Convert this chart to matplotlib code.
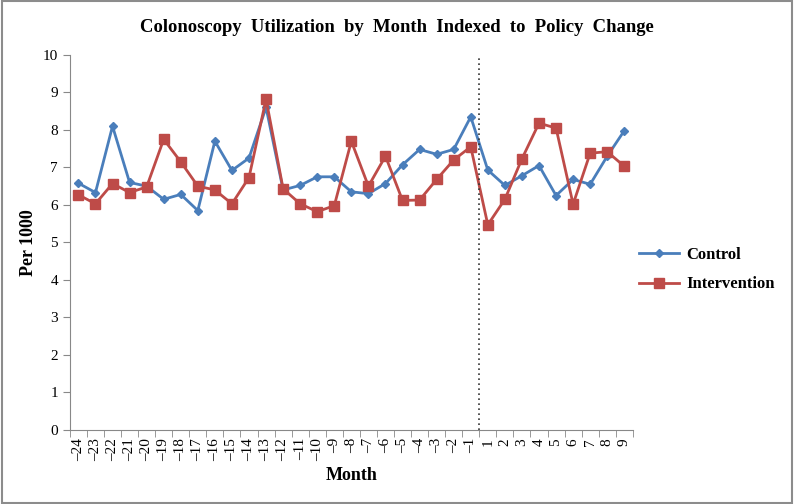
import numpy as np
import matplotlib.pyplot as plt
from matplotlib.patches import Rectangle

months = [str(m) for m in range(-24, 0)] + [str(m) for m in range(1, 10)]
control = [6.58, 6.33, 8.10, 6.60, 6.50, 6.15, 6.28, 5.85, 7.70, 6.92, 7.25, 8.60,
           6.40, 6.52, 6.75, 6.75, 6.35, 6.30, 6.57, 7.07, 7.48, 7.35, 7.48, 8.35,
           6.93, 6.52, 6.78, 7.05, 6.25, 6.68, 6.55, 7.30, 7.98]
intervention = [6.27, 6.03, 6.57, 6.33, 6.48, 7.75, 7.15, 6.50, 6.40, 6.03, 6.73, 8.82,
                6.43, 6.03, 5.82, 5.98, 7.70, 6.50, 7.30, 6.12, 6.13, 6.68, 7.20, 7.55,
                5.47, 6.15, 7.23, 8.18, 8.05, 6.02, 7.38, 7.42, 7.03]

plt.rcParams['font.family'] = ['Liberation Serif', 'DejaVu Serif']

fig = plt.figure(figsize=(7.94, 5.04), dpi=100)
ax = fig.add_axes([0.088, 0.147, 0.709, 0.744])
fig.patches.append(Rectangle((0.002, 0.002), 0.996, 0.996, transform=fig.transFigure,
                             fill=False, edgecolor='#8c8c8c', linewidth=1.5))

x = np.arange(len(months))
ax.plot(x, control, color='#4A7EBB', marker='D', ms=4.5, lw=2, label='Control')
ax.plot(x, intervention, color='#BE4B48', marker='s', ms=6.5, lw=2, label='Intervention')

# policy change between -1 and 1
ax.axvline(months.index('-1') + 0.5, color='#333333', ls=(0, (1, 2)), lw=1.2)

ax.set_xlim(-0.5, len(months) - 0.5)
ax.set_ylim(0, 10)
ax.set_yticks(range(0, 11))
ax.set_xticks(x)
labels = [m.replace('-', '\u2013') for m in months]
ax.set_xticklabels(labels, rotation=90, fontsize=11)
ax.set_xticks(np.arange(-0.5, len(months)), minor=True)
ax.tick_params(axis='x', which='major', length=0, pad=6)
ax.tick_params(axis='x', which='minor', length=5, color='#888888')
ax.tick_params(axis='y', labelsize=11, length=5, color='#888888')

for s in ['top', 'right']:
    ax.spines[s].set_visible(False)
for s in ['left', 'bottom']:
    ax.spines[s].set_color('#888888')

fig.suptitle('Colonoscopy  Utilization  by  Month  Indexed  to  Policy  Change',
             x=0.5, y=0.962, fontsize=13.4, fontweight='bold')
ax.set_xlabel('Month', fontsize=13, fontweight='bold')
ax.set_ylabel('Per 1000', fontsize=13, fontweight='bold')

ax.legend(loc='center left', bbox_to_anchor=(1.0, 0.427), frameon=False,
          borderaxespad=0, handletextpad=0.4, labelspacing=0.8,
          prop={'weight': 'bold', 'size': 12}, handlelength=2.4)

plt.savefig('out.png', dpi=100)
